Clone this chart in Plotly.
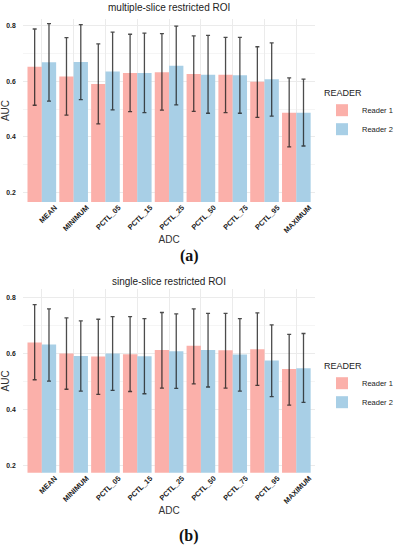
import plotly.graph_objects as go
from plotly.subplots import make_subplots

categories = ["MEAN", "MINIMUM", "PCTL_05", "PCTL_15", "PCTL_25",
              "PCTL_50", "PCTL_75", "PCTL_95", "MAXIMUM"]

# (a) multiple-slice restricted ROI
a_r1 = [0.653, 0.618, 0.591, 0.630, 0.633, 0.627, 0.624, 0.599, 0.487]
a_r1_lo = [0.514, 0.478, 0.447, 0.491, 0.496, 0.492, 0.487, 0.470, 0.364]
a_r1_hi = [0.789, 0.758, 0.735, 0.770, 0.772, 0.764, 0.759, 0.725, 0.613]
a_r2 = [0.669, 0.670, 0.636, 0.630, 0.656, 0.624, 0.622, 0.608, 0.487]
a_r2_lo = [0.529, 0.534, 0.497, 0.487, 0.515, 0.485, 0.485, 0.475, 0.367]
a_r2_hi = [0.808, 0.805, 0.778, 0.774, 0.799, 0.766, 0.759, 0.739, 0.608]

# (b) single-slice restricted ROI
b_r1 = [0.639, 0.600, 0.589, 0.597, 0.612, 0.627, 0.611, 0.615, 0.544]
b_r1_lo = [0.506, 0.472, 0.454, 0.464, 0.476, 0.491, 0.476, 0.486, 0.415]
b_r1_hi = [0.774, 0.727, 0.722, 0.731, 0.746, 0.759, 0.743, 0.745, 0.668]
b_r2 = [0.632, 0.591, 0.600, 0.590, 0.608, 0.612, 0.596, 0.575, 0.547]
b_r2_lo = [0.501, 0.465, 0.468, 0.456, 0.475, 0.480, 0.465, 0.446, 0.425]
b_r2_hi = [0.759, 0.716, 0.731, 0.724, 0.741, 0.743, 0.724, 0.702, 0.671]

RED = "#FBB0AA"
BLUE = "#A8CFE6"
ERR = "rgba(25,25,25,0.78)"

fig = make_subplots(rows=2, cols=1)


def add_pair(row, vals1, lo1, hi1, vals2, lo2, hi2, legend):
    for name, vals, lo, hi, col in [("Reader 1", vals1, lo1, hi1, RED),
                                    ("Reader 2", vals2, lo2, hi2, BLUE)]:
        fig.add_trace(go.Bar(
            x=categories, y=vals, name=name, marker_color=col,
            marker_line_width=0, legend=legend,
            error_y=dict(type="data", symmetric=False,
                         array=[h - v for h, v in zip(hi, vals)],
                         arrayminus=[v - l for v, l in zip(vals, lo)],
                         color=ERR, thickness=1.3, width=2),
        ), row=row, col=1)


add_pair(1, a_r1, a_r1_lo, a_r1_hi, a_r2, a_r2_lo, a_r2_hi, "legend")
add_pair(2, b_r1, b_r1_lo, b_r1_hi, b_r2, b_r2_lo, b_r2_hi, "legend2")

xdom = [24 / 398, 333 / 398]
xtickfont = dict(family="Liberation Sans, Arial, sans-serif", size=7.3,
                 color="#1a1a1a", weight="bold")
ytickfont = dict(family="Liberation Sans, Arial, sans-serif", size=6.8,
                 color="#1a1a1a", weight="bold")
axis_title_font = dict(family="Liberation Sans, Arial, sans-serif", size=10,
                       color="#333333")

for i, (ydom, yr) in enumerate([
        ([1 - 202 / 550, 1 - 19 / 550], [0.165, 0.825]),
        ([1 - 472.7 / 550, 1 - 289 / 550], [0.174, 0.830])], start=1):
    fig.update_xaxes(domain=xdom, range=[-0.6, 8.6], showgrid=True,
                     gridcolor="#EBEBEB", gridwidth=1, zeroline=False,
                     showline=False, ticks="", tickangle=-45,
                     tickfont=xtickfont, ticklabelshift=13,
                     ticklabelstandoff=-1,
                     title=dict(text="ADC", font=axis_title_font, standoff=2),
                     automargin=False, row=i, col=1)
    fig.update_yaxes(domain=ydom, range=yr, tickvals=[0.2, 0.4, 0.6, 0.8],
                     ticktext=["0.2", "0.4", "0.6", "0.8"],
                     showgrid=True, gridcolor="#EBEBEB", gridwidth=1,
                     minor=dict(tickvals=[0.3, 0.5, 0.7], showgrid=True,
                                gridcolor="#F5F5F5", gridwidth=0.6),
                     zeroline=False, showline=False, ticks="",
                     tickfont=ytickfont, ticklabelstandoff=6,
                     title=dict(text="AUC", font=axis_title_font, standoff=3),
                     automargin=False, row=i, col=1)

legend_common = dict(
    xanchor="left", yanchor="middle", bgcolor="rgba(0,0,0,0)",
    font=dict(family="Liberation Sans, Arial, sans-serif", size=7.5,
              color="#1a1a1a"),
    title=dict(text="READER", font=dict(family="Liberation Sans, Arial, sans-serif",
                                        size=9, color="#222222")),
    itemwidth=30, tracegroupgap=0, traceorder="normal",
)

fig.update_layout(
    width=398, height=550,
    margin=dict(l=0, r=0, t=0, b=0),
    paper_bgcolor="white", plot_bgcolor="white",
    barmode="group", bargap=0.1, bargroupgap=0,
    font=dict(family="Liberation Sans, Arial, sans-serif"),
    legend=dict(x=340 / 398, y=1 - 114 / 550, **legend_common),
    legend2=dict(x=340 / 398, y=1 - 387 / 550, **legend_common),
    annotations=[
        dict(text="multiple-slice restricted ROI", x=178.5 / 398, y=1 - 8 / 550,
             xref="paper", yref="paper", showarrow=False, xanchor="center",
             yanchor="middle", font=dict(size=10, color="#222222")),
        dict(text="single-slice restricted ROI", x=178.5 / 398, y=1 - 281 / 550,
             xref="paper", yref="paper", showarrow=False, xanchor="center",
             yanchor="middle", font=dict(size=10, color="#222222")),
        dict(text="<b>(a)</b>", x=200 / 398, y=1 - 256 / 550,
             xref="paper", yref="paper", showarrow=False, xanchor="center",
             yanchor="middle",
             font=dict(family="Liberation Serif, DejaVu Serif, serif", size=16,
                       color="#111111")),
        dict(text="<b>(b)</b>", x=200 / 398, y=1 - 536 / 550,
             xref="paper", yref="paper", showarrow=False, xanchor="center",
             yanchor="middle",
             font=dict(family="Liberation Serif, DejaVu Serif, serif", size=16,
                       color="#111111")),
    ],
)

fig.write_html("out.html", config={"displayModeBar": False},
               post_script="document.body.style.margin='0px';")
